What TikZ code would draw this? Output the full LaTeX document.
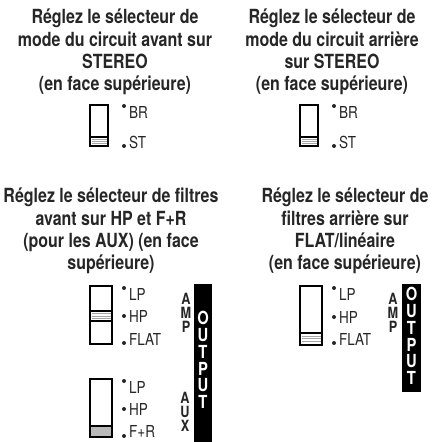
\documentclass[tikz,border=0pt]{standalone}
\usepackage{fontspec}
\setmainfont{texgyreheros}[Extension=.otf, UprightFont=*-regular, BoldFont=*-bold, FakeStretch=0.82]
\definecolor{txt}{gray}{0.15}

\begin{document}
\begin{tikzpicture}[x=1pt,y=-1pt,
    heading/.style={font=\bfseries\fontsize{19.5}{22.3}\selectfont, align=center, text=txt, inner sep=0pt, anchor=north},
    lbl/.style={font=\fontsize{16.5}{18}\selectfont, text=txt, inner sep=0pt},
    tag/.style={font=\bfseries\fontsize{15.5}{15.5}\selectfont, text=txt, inner sep=0pt, text height=0.72em, text depth=0pt},
    outtag/.style={font=\bfseries\fontsize{18}{18}\selectfont, text=white, inner sep=0pt, text height=0.72em, text depth=0pt},
    body/.style={draw=black, line width=1.5pt},
    knob/.style={draw=black, line width=2pt, fill=white},
    stripe/.style={draw=gray!70, line width=0.8pt}]
    \useasboundingbox (0,0) rectangle (434,442);

    % headings
    \node[heading] (front) at (115,9) {Réglez le sélecteur de\\mode du circuit avant sur\\STEREO\\(en face supérieure)};
    \node[heading] (rear) at (332,9) {Réglez le sélecteur de\\mode du circuit arrière\\sur STEREO\\(en face supérieure)};
    \node[heading] (frontflt) at (111,188) {Réglez le sélecteur de filtres\\avant sur HP et F+R\\(pour les AUX) (en face\\supérieure)};
    \node[heading] (rearflt) at (345,188) {Réglez le sélecteur de\\filtres arrière sur\\FLAT/linéaire\\(en face supérieure)};

    % front mode switch
    \draw[body](90,105) rectangle (108,146);
    \draw[knob](90,137) rectangle (108,146);
    \foreach \s in {139.5,141.5,143.5} \draw[stripe](91.5,\s)--(106.5,\s);
    \fill[txt](124,106) circle (2);
    \fill[txt](124,146) circle (2);
    \node[lbl,anchor=north west] (brf) at (129,106) {BR};
    \node[lbl,anchor=base west] (stf) at (129,148) {ST};

    % rear mode switch
    \draw[body](300,105) rectangle (318,146);
    \draw[knob](300,137) rectangle (318,146);
    \foreach \s in {139.5,141.5,143.5} \draw[stripe](301.5,\s)--(316.5,\s);
    \fill[txt](334,106) circle (2);
    \fill[txt](334,146) circle (2);
    \node[lbl,anchor=north west] (brr) at (339,106) {BR};
    \node[lbl,anchor=base west] (str) at (339,148) {ST};

    % front filter switch, amp
    \draw[body](90,286) rectangle (112,344);
    \draw[knob](90,311) rectangle (112,321);
    \foreach \s in {313.5,316,318.5} \draw[stripe](91.5,\s)--(110.5,\s);
    \foreach \y in {288,316,343} \fill[txt](124,\y) circle (2);
    \node[lbl,anchor=north west] (lpf) at (129,288) {LP};
    \node[lbl,anchor=west] (hpf) at (129,316) {HP};
    \node[lbl,anchor=base west] (flatf) at (129,345) {FLAT};
    \foreach \l/\y [count=\i] in {A/301,M/315,P/329}
        \node[tag] (ampf\i) at (186,\y) {\l};

    % front filter switch, aux
    \draw[body](90,379) rectangle (112,437);
    \draw[knob,fill=gray!55](90,426) rectangle (112,437);
    \foreach \y in {381,409,436} \fill[txt](124,\y) circle (2);
    \node[lbl,anchor=north west] (lpa) at (129,381) {LP};
    \node[lbl,anchor=west] (hpa) at (129,409) {HP};
    \node[lbl,anchor=base west] (fr) at (129,437.5) {F+R};
    \foreach \l/\y [count=\i] in {A/400,U/414,X/428}
        \node[tag] (aux\i) at (185,\y) {\l};

    % front output bar
    \fill[black](194,284) rectangle (212,442);
    \foreach \l [count=\i] in {O,U,T,P,U,T}
        \node[outtag] (outf\i) at (203,{321+16.8*(\i-1)}) {\l};

    % rear filter switch
    \draw[body](300,286) rectangle (322,345);
    \draw[knob](300,333) rectangle (322,345);
    \foreach \s in {336,338.5,341} \draw[stripe](301.5,\s)--(320.5,\s);
    \foreach \y in {288,317,343} \fill[txt](334,\y) circle (2);
    \node[lbl,anchor=north west] (lpr) at (339,288) {LP};
    \node[lbl,anchor=west] (hpr) at (339,317) {HP};
    \node[lbl,anchor=base west] (flatr) at (339,345) {FLAT};
    \foreach \l/\y [count=\i] in {A/301,M/315,P/329}
        \node[tag] (ampr\i) at (393,\y) {\l};

    % rear output bar
    \fill[black](402,284) rectangle (421,392);
    \foreach \l [count=\i] in {O,U,T,P,U,T}
        \node[outtag] (outr\i) at (411.5,{297+16.8*(\i-1)}) {\l};
\end{tikzpicture}
\end{document}
